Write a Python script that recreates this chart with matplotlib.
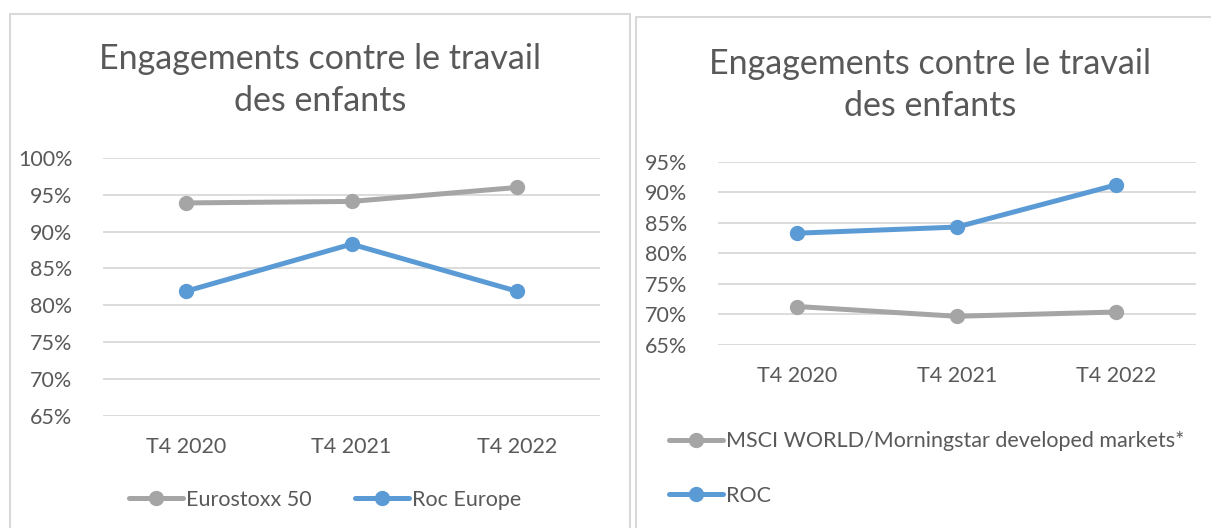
import matplotlib
matplotlib.use("Agg")
import matplotlib.pyplot as plt
from matplotlib.patches import Rectangle
from matplotlib.ticker import FuncFormatter

plt.rcParams['font.family'] = ['Lato', 'DejaVu Sans']

title = "Engagements contre le travail\ndes enfants"
quarters = ["T4 2020", "T4 2021", "T4 2022"]

# left chart
eurostoxx = [93.9, 94.1, 96.0]
roc_europe = [81.9, 88.3, 81.9]
left_ticks = [65, 70, 75, 80, 85, 90, 95, 100]

# right chart
msci_world = [71.3, 69.7, 70.4]
roc = [83.3, 84.3, 91.2]
right_ticks = [65, 70, 75, 80, 85, 90, 95]

gray = "#A5A5A5"
blue = "#5B9BD5"
txt = "#595959"
grid = "#D9D9D9"

fig = plt.figure(figsize=(12.11, 5.28), dpi=100)
W, H = 1211, 528

# chart frames
fig.patches.append(Rectangle((10 / W, -0.1), 620 / W, 1.1 - 14 / H,
                             transform=fig.transFigure, fill=False,
                             edgecolor=grid, lw=1.5))
fig.patches.append(Rectangle((636 / W, -0.1), 620 / W, 1.1 - 17 / H,
                             transform=fig.transFigure, fill=False,
                             edgecolor=grid, lw=1.5))

pct = FuncFormatter(lambda v, p: f"{v:.0f}%")


def setup(ax, ticks):
    ax.set_xlim(-0.5, 2.5)
    ax.set_ylim(ticks[0], ticks[-1])
    ax.set_yticks(ticks)
    ax.yaxis.set_major_formatter(pct)
    ax.set_xticks(range(len(quarters)))
    ax.set_xticklabels(quarters)
    ax.grid(axis='y', color=grid, lw=1.3)
    ax.set_axisbelow(True)
    for s in ax.spines.values():
        s.set_visible(False)
    ax.tick_params(length=0, colors=txt, labelsize=15.5)
    ax.tick_params(axis='y', pad=22)
    ax.tick_params(axis='x', pad=15)
    ax.set_facecolor('none')


# left
ax1 = fig.add_axes([103 / W, 1 - 415.7 / H, 497 / W, 257.7 / H])
setup(ax1, left_ticks)
ax1.plot(range(3), eurostoxx, color=gray, lw=3.6, marker='o', ms=10,
         label="Eurostoxx 50", solid_capstyle='round')
ax1.plot(range(3), roc_europe, color=blue, lw=3.6, marker='o', ms=10,
         label="Roc Europe", solid_capstyle='round')
fig.text(320 / W, 1 - 80 / H, title, ha='center', va='center',
         fontsize=24.5, color=txt, linespacing=1.35)
leg1 = ax1.legend(loc='center', bbox_to_anchor=(325 / W, 1 - 500 / H),
                  bbox_transform=fig.transFigure, ncol=2, frameon=False,
                  fontsize=15.5, handlelength=2.5, handletextpad=0.15,
                  columnspacing=2.0)
for t in leg1.get_texts():
    t.set_color(txt)

# right
ax2 = fig.add_axes([717.7 / W, 1 - 345 / H, 478 / W, 183.3 / H])
setup(ax2, right_ticks)
ax2.plot(range(3), msci_world, color=gray, lw=3.6, marker='o', ms=10,
         label="MSCI WORLD/Morningstar developed markets*",
         solid_capstyle='round')
ax2.plot(range(3), roc, color=blue, lw=3.6, marker='o', ms=10,
         label="ROC", solid_capstyle='round')
fig.text(930 / W, 1 - 85 / H, title, ha='center', va='center',
         fontsize=24.5, color=txt, linespacing=1.35)
leg2 = ax2.legend(loc='upper left', bbox_to_anchor=(650 / W, 1 - 412 / H),
                  bbox_transform=fig.transFigure, ncol=1, frameon=False,
                  fontsize=15.5, handlelength=2.5, handletextpad=0.15,
                  labelspacing=1.6)
for t in leg2.get_texts():
    t.set_color(txt)

fig.savefig("out.png", dpi=100)
